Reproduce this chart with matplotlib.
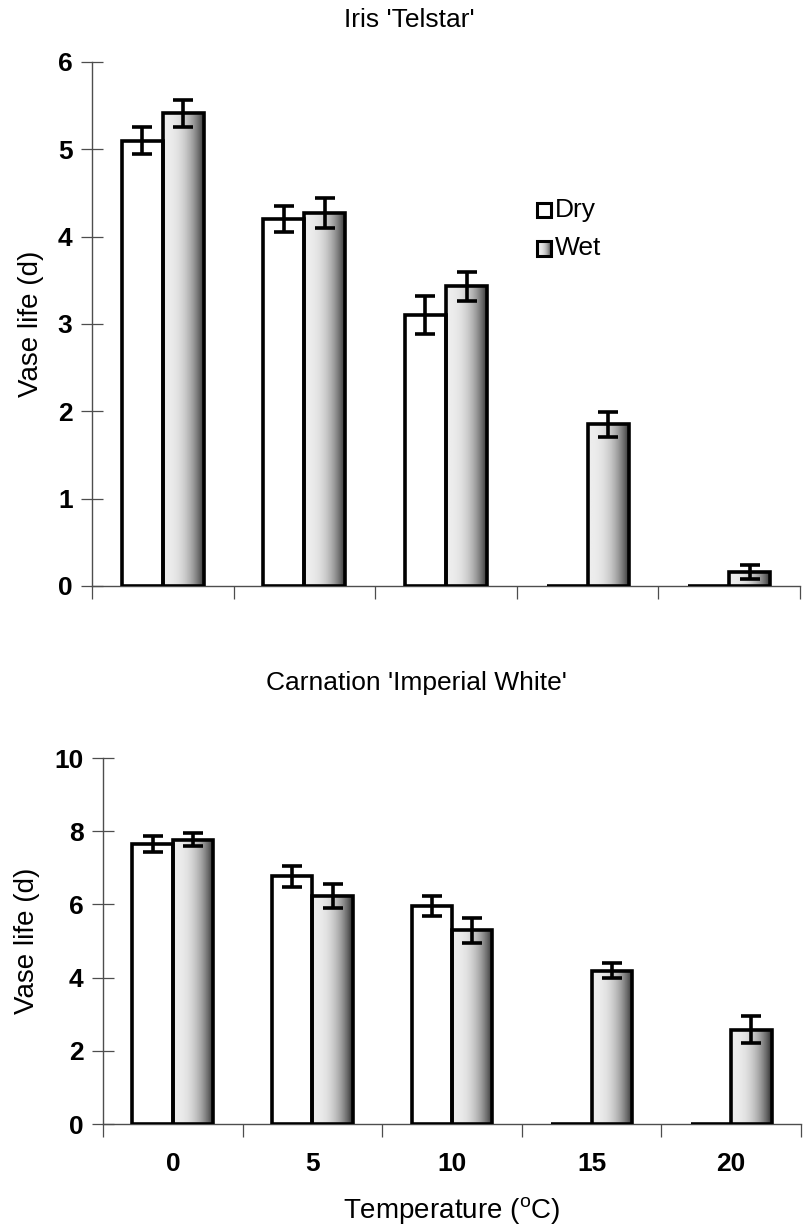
import numpy as np
import matplotlib
matplotlib.use("Agg")
import matplotlib.pyplot as plt

plt.rcParams['font.family'] = ['Liberation Sans', 'DejaVu Sans']

temps = ['0', '5', '10', '15', '20']

iris_dry = [5.10, 4.20, 3.10, 0.0, 0.0]
iris_dry_err = [0.15, 0.15, 0.22, 0.0, 0.0]
iris_wet = [5.41, 4.27, 3.43, 1.85, 0.16]
iris_wet_err = [0.15, 0.17, 0.17, 0.14, 0.08]

carn_dry = [7.65, 6.77, 5.96, 0.0, 0.0]
carn_dry_err = [0.23, 0.28, 0.28, 0.0, 0.0]
carn_wet = [7.77, 6.24, 5.29, 4.19, 2.58]
carn_wet_err = [0.17, 0.33, 0.33, 0.21, 0.36]

W = 0.29
# light on the left, darker toward the right edge
t = np.linspace(0, 1, 64)
grad = (0.93 - 0.75 * t ** 2.6).reshape(1, -1)


def shaded_bar(ax, x, h):
    if h > 0:
        ax.imshow(grad, extent=[x - W / 2, x + W / 2, 0, h], aspect='auto',
                  cmap='gray', vmin=0, vmax=1, zorder=2, interpolation='bilinear')
    ax.bar(x, h, W, facecolor='none', edgecolor='black', linewidth=2.6, zorder=3)


def panel(ax, dry, dry_err, wet, wet_err, ymax, ystep):
    x = np.arange(len(temps))
    ax.bar(x - W / 2, dry, W, facecolor='white', edgecolor='black', linewidth=2.6, zorder=3)
    for xi, h in zip(x + W / 2, wet):
        shaded_bar(ax, xi, h)
    for xs, hs, es in [(x - W / 2, dry, dry_err), (x + W / 2, wet, wet_err)]:
        for xi, h, e in zip(xs, hs, es):
            if e > 0:
                ax.errorbar(xi, h, yerr=e, fmt='none', ecolor='black',
                            elinewidth=2.6, capsize=7, capthick=2.6, zorder=4)
    ax.set_xlim(-0.5, len(temps) - 0.5)
    ax.set_ylim(0, ymax)
    ax.set_yticks(np.arange(0, ymax + 0.01, ystep))
    ax.set_xticks(np.arange(-0.5, len(temps)), minor=False)
    ax.set_xticklabels([])
    ax.set_xticks(x, minor=True)
    ax.tick_params(axis='x', which='major', direction='out', length=9, width=0.9, color='0.3')
    ax.tick_params(axis='x', which='minor', length=0, labelsize=19, pad=20)
    ax.tick_params(axis='y', direction='inout', length=16, width=0.9, color='0.3',
                   labelsize=19, pad=6)
    for lab in ax.get_yticklabels() + ax.get_xticklabels(minor=True):
        lab.set_fontweight('bold')
    for s in ['top', 'right']:
        ax.spines[s].set_visible(False)
    for s in ['left', 'bottom']:
        ax.spines[s].set_color('0.3')
        ax.spines[s].set_linewidth(1.0)
    ax.set_ylabel('Vase life (d)', fontsize=20, labelpad=10)


fig = plt.figure(figsize=(8.05, 12.31), dpi=100)
ax1 = fig.add_axes([0.1143, 0.524, 0.8795, 0.4257])
ax2 = fig.add_axes([0.128, 0.0869, 0.867, 0.2973])

panel(ax1, iris_dry, iris_dry_err, iris_wet, iris_wet_err, 6, 1)
panel(ax2, carn_dry, carn_dry_err, carn_wet, carn_wet_err, 10, 2)
ax2.set_xticklabels(temps, minor=True)
for lab in ax2.get_xticklabels(minor=True):
    lab.set_fontweight('bold')
ax2.set_xlabel(r'Temperature ($\mathregular{^oC}$)', fontsize=20, labelpad=14)

fig.text(0.508, 0.984, "Iris 'Telstar'", ha='center', va='center', fontsize=19)
fig.text(0.517, 0.445, "Carnation 'Imperial White'", ha='center', va='center', fontsize=19)

# legend drawn by hand so the Wet swatch keeps its shading
sq_w, sq_h = 0.1, 0.17
lx = 2.64
ax1.add_patch(plt.Rectangle((lx, 4.22), sq_w, sq_h, facecolor='white',
                            edgecolor='black', linewidth=2.2, zorder=5))
ax1.imshow(grad, extent=[lx, lx + sq_w, 3.78, 3.78 + sq_h], aspect='auto',
           cmap='gray', vmin=0, vmax=1, zorder=5, interpolation='bilinear')
ax1.add_patch(plt.Rectangle((lx, 3.78), sq_w, sq_h, facecolor='none',
                            edgecolor='black', linewidth=2.2, zorder=6))
ax1.text(lx + 0.13, 4.31, 'Dry', fontsize=19, va='center')
ax1.text(lx + 0.13, 3.87, 'Wet', fontsize=19, va='center')
ax1.set_xlim(-0.5, len(temps) - 0.5)
ax1.set_ylim(0, 6)

fig.savefig('out.png', dpi=100)
